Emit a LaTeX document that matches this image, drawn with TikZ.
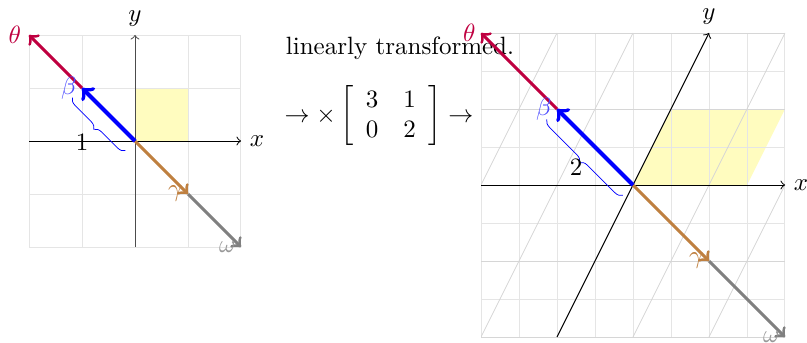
\documentclass[tikz,border=0pt]{standalone}
\usetikzlibrary{decorations.pathreplacing}
\begin{document}
\begin{tikzpicture}[x=1pt,y=1pt]
\useasboundingbox (0,0) rectangle (322.8,136.8);
\tikzset{
 gridline/.style={gray!20, line width=0.4pt},
 slantline/.style={gray!32, line width=0.3pt},
 axisline/.style={->, line width=0.4pt},
 vtheta/.style={->, purple, very thick},
 vbeta/.style={->, blue, ultra thick},
 vgamma/.style={->, brown, very thick},
 vomega/.style={->, gray, very thick},
 bracestyle/.style={blue, line width=0.3pt, decorate, decoration={brace, amplitude=3pt}},
 lab/.style={left, inner sep=2pt}
}
% ---------- left plot ----------
\begin{scope}[shift={(54pt,80.4pt)}, x=21.2pt, y=21.2pt]
 \fill[yellow!25] (0,0) rectangle (1,1);
 \draw[gridline, step=21.2pt] (-2,-2) grid (2,2);
 \coordinate (LO) at (0,0);
 \coordinate (Lxs) at (-2,0); \coordinate (Lxe) at (2,0);
 \coordinate (Lys) at (0,-2); \coordinate (Lye) at (0,2);
 \draw[axisline] (Lxs) -- (Lxe);
 \node[right] (Lxl) at (Lxe) {$x$};
 \draw[axisline, black!70] (Lys) -- (Lye);
 \node[above] (Lyl) at (Lye) {$y$};
 \coordinate (Lb) at (-1,1); \coordinate (Lt) at (-2,2);
 \coordinate (Lg) at (1,-1); \coordinate (Lw) at (2,-2);
 \draw[vomega] (Lg) -- (Lw);
 \draw[vgamma] (LO) -- (Lg);
 \draw[vtheta] (Lb) -- (Lt);
 \draw[vbeta] (LO) -- (Lb);
 \node[lab, purple, inner sep=3pt] (Ltl) at (Lt) {$\theta$};
 \node[lab, blue!70] (Lbl) at (Lb) {$\beta$};
 \node[lab, brown] (Lgl) at (Lg) {$\gamma$};
 \node[lab, gray!80] (Lwl) at (Lw) {$\omega$};
 \coordinate (Lbr1) at (-0.18,-0.18); \coordinate (Lbr2) at (-1.18,0.82);
 \draw[bracestyle] (Lbr1) -- (Lbr2);
 \node (Lone) at (-1,-0.02) {$1$};
\end{scope}
% ---------- right plot background ----------
\begin{scope}[shift={(253.2pt,62.8pt)}, x=15.2pt, y=15.2pt]
 \fill[yellow!25] (0,0) -- (3,0) -- (4,2) -- (1,2) -- cycle;
 \draw[gridline, step=15.2pt] (-4,-4) grid (4,4);
 \begin{scope}
  \clip (-4,-4) rectangle (4,4);
  \foreach \m in {-3,...,3} {
   \draw[slantline] ({2*\m-2},-4) -- ({2*\m+2},4);
  }
 \end{scope}
 \foreach \yy in {-4,-2,2,4} {
  \draw[slantline] (-4,\yy) -- (4,\yy);
 }
 \coordinate (RO) at (0,0);
 \coordinate (Rxs) at (-4,0); \coordinate (Rxe) at (4,0);
 \coordinate (Rys) at (-2,-4); \coordinate (Rye) at (2,4);
 \draw[axisline] (Rxs) -- (Rxe);
 \node[right] (Rxl) at (Rxe) {$x$};
 \draw[axisline] (Rys) -- (Rye);
 \node[above] (Ryl) at (Rye) {$y$};
\end{scope}
% ---------- middle text ----------
\node (txt) at (160pt,117.6pt) {linearly transformed.};
\node (mat) at (151.6pt,90.4pt) {$\rightarrow\times\left[\begin{array}{cc}3&1\\0&2\end{array}\right]\rightarrow$};
% ---------- right plot vectors ----------
\begin{scope}[shift={(253.2pt,62.8pt)}, x=15.2pt, y=15.2pt]
 \coordinate (Rb) at (-2,2); \coordinate (Rt) at (-4,4);
 \coordinate (Rg) at (2,-2); \coordinate (Rw) at (4,-4);
 \draw[vomega] (Rg) -- (Rw);
 \draw[vgamma] (RO) -- (Rg);
 \draw[vtheta] (Rb) -- (Rt);
 \draw[vbeta] (RO) -- (Rb);
 \node[lab, purple] (Rtl) at (Rt) {$\theta$};
 \node[lab, blue!70] (Rbl) at (Rb) {$\beta$};
 \node[lab, brown] (Rgl) at (Rg) {$\gamma$};
 \node[lab, gray!80] (Rwl) at (Rw) {$\omega$};
 \coordinate (Rbr1) at (-0.27,-0.27); \coordinate (Rbr2) at (-2.27,1.73);
 \draw[bracestyle] (Rbr1) -- (Rbr2);
\end{scope}
\node (Rtwo) at (230.4pt,70pt) {$2$};
\end{tikzpicture}
\end{document}
